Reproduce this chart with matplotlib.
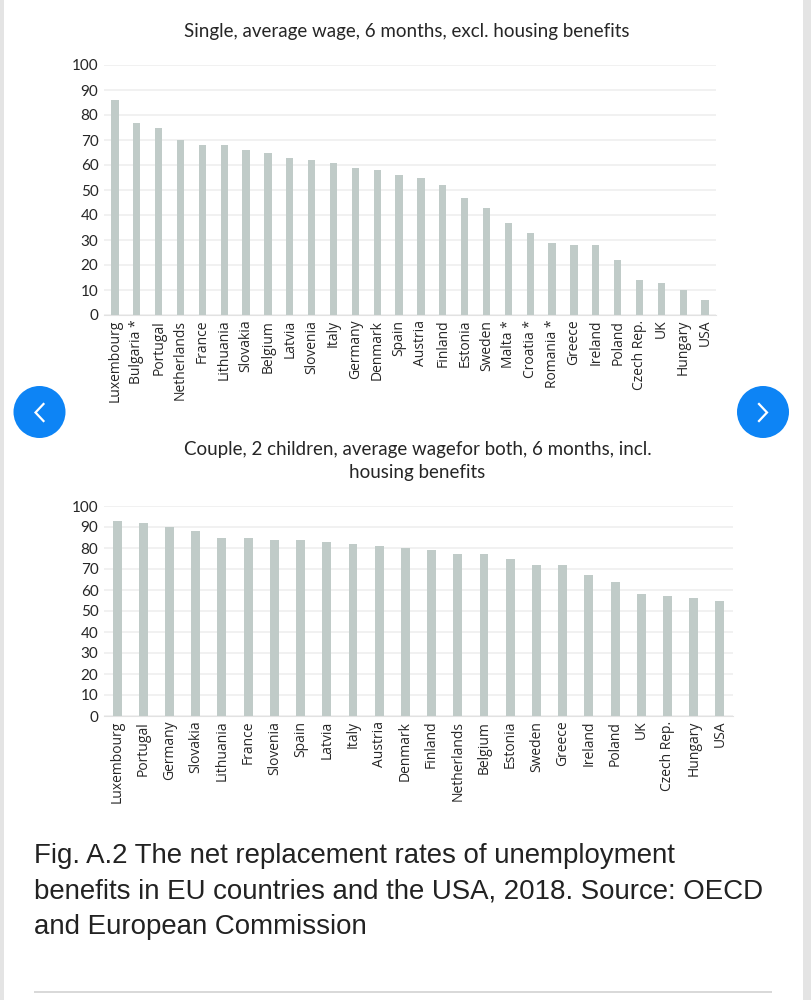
import matplotlib
matplotlib.use("Agg")
import matplotlib.pyplot as plt
from matplotlib.patches import Circle, Rectangle
import numpy as np

W, H = 812, 1000

countries_single = ["Luxembourg", "Bulgaria *", "Portugal", "Netherlands", "France", "Lithuania",
                    "Slovakia", "Belgium", "Latvia", "Slovenia", "Italy", "Germany", "Denmark",
                    "Spain", "Austria", "Finland", "Estonia", "Sweden", "Malta *", "Croatia *",
                    "Romania *", "Greece", "Ireland", "Poland", "Czech Rep.", "UK", "Hungary", "USA"]
values_single = [86, 77, 75, 70, 68, 68, 66, 65, 63, 62, 61, 59, 58, 56, 55, 52, 47, 43, 37, 33,
                 29, 28, 28, 22, 14, 13, 10, 6]

countries_couple = ["Luxembourg", "Portugal", "Germany", "Slovakia", "Lithuania", "France",
                    "Slovenia", "Spain", "Latvia", "Italy", "Austria", "Denmark", "Finland",
                    "Netherlands", "Belgium", "Estonia", "Sweden", "Greece", "Ireland", "Poland",
                    "UK", "Czech Rep.", "Hungary", "USA"]
values_couple = [93, 92, 90, 88, 85, 85, 84, 84, 83, 82, 81, 80, 79, 77, 77, 75, 72, 72, 67, 64,
                 58, 57, 56, 55]

y_ticks = list(range(0, 101, 10))

title_single = "Single, average wage, 6 months, excl. housing benefits"
title_couple = "Couple, 2 children, average wagefor both, 6 months, incl.\nhousing benefits"
caption = ("Fig. A.2 The net replacement rates of unemployment\n"
           "benefits in EU countries and the USA, 2018. Source: OECD\n"
           "and European Commission")

BAR = "#c0cbc8"
GRID = "#efefef"
TEXT = "#262626"


def px_axes(fig, left, top, right, bottom):
    return fig.add_axes([left / W, 1 - bottom / H, (right - left) / W, (bottom - top) / H])


def bar_panel(fig, box, names, values, width):
    ax = px_axes(fig, *box)
    x = np.arange(len(names))
    ax.bar(x, values, width=width, color=BAR, zorder=3)
    ax.set_xlim(-0.5, len(names) - 0.5)
    ax.set_ylim(0, 100)
    ax.set_yticks(y_ticks)
    ax.set_xticks(x)
    ax.set_xticklabels(names, rotation=90, fontsize=10, family="Open Sans", color=TEXT)
    ax.tick_params(axis="both", length=0)
    ax.tick_params(axis="x", pad=3.5)
    ax.tick_params(axis="y", pad=4)
    for lab in ax.get_yticklabels():
        lab.set_fontsize(11)
        lab.set_family("Lato")
        lab.set_color(TEXT)
    ax.grid(axis="y", color=GRID, linewidth=1.2, zorder=0)
    for side in ["top", "right", "left"]:
        ax.spines[side].set_visible(False)
    ax.spines["bottom"].set_color("#e2e2e2")
    ax.patch.set_alpha(0)
    return ax


fig = plt.figure(figsize=(W / 100, H / 100), dpi=100, facecolor="white")

# page furniture, in pixel coordinates
page = fig.add_axes([0, 0, 1, 1])
page.set_xlim(0, W)
page.set_ylim(H, 0)
page.axis("off")
page.add_patch(Rectangle((0, 0), 4, H, color="#e4e4e4", lw=0))
page.add_patch(Rectangle((803, 0), 9, H, color="#e4e4e4", lw=0))
page.add_patch(Rectangle((34, 991), 738, 1.6, color="#d9d9d9", lw=0))
for cx, sign in [(39.5, -1), (763, 1)]:
    page.add_patch(Circle((cx, 412), 26, color="#0d84f5", lw=0))
    page.plot([cx - sign * 4, cx + sign * 4, cx - sign * 4], [404, 412.5, 421],
              color="white", lw=1.6, solid_joinstyle="miter")

bar_panel(fig, (104, 65, 716, 315), countries_single, values_single, 0.33)
bar_panel(fig, (104, 506, 733, 716), countries_couple, values_couple, 0.34)

page.text(406.5, 31, title_single, ha="center", va="center", fontsize=13.5,
          family="Lato", color=TEXT)
page.text(417.5, 461, title_couple, ha="center", va="center", fontsize=13.5,
          family="Lato", color=TEXT, linespacing=1.45)
page.text(34, 891.5, caption, ha="left", va="center", fontsize=19.9,
          family="Liberation Sans", color="#222222", linespacing=1.48)

fig.savefig("out.png", dpi=100)
